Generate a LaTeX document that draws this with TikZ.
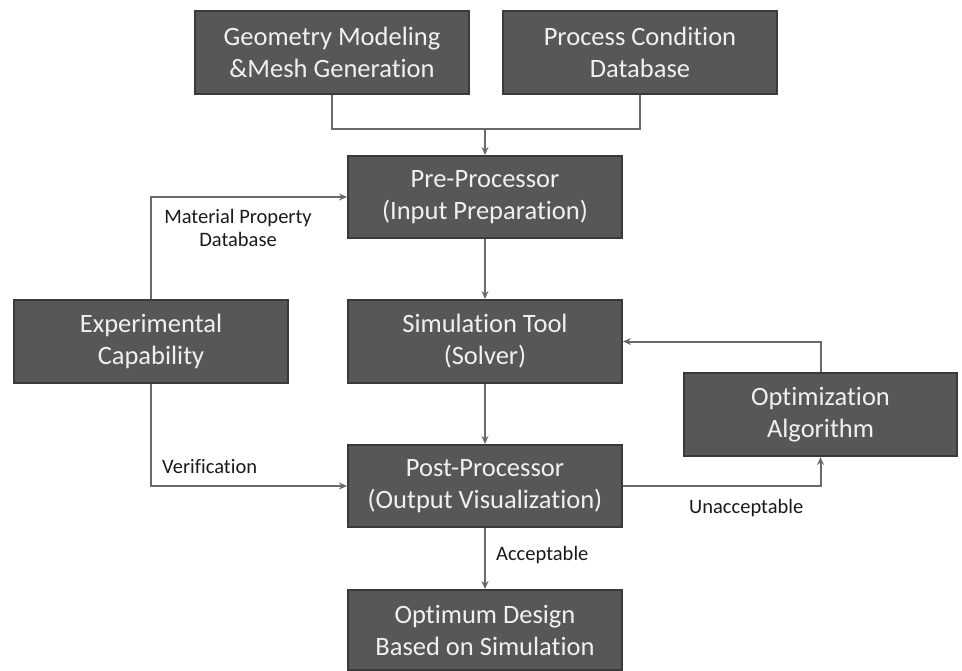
\documentclass[tikz,border=0pt]{standalone}
\usepackage{fontspec}
\setmainfont{Carlito}[Ligatures={NoCommon,NoContextual}]
\usetikzlibrary{arrows.meta}
\definecolor{boxfill}{HTML}{575757}
\definecolor{boxline}{HTML}{3A3A3A}
\definecolor{boxtext}{HTML}{F0F0F0}
\definecolor{conn}{HTML}{6A6A6A}
\definecolor{lbl}{HTML}{1A1A1A}
\tikzset{
  blk/.style={draw=boxline, line width=2pt, fill=boxfill, text=boxtext,
    minimum width=274pt, minimum height=83pt, inner sep=0pt, align=center,
    font=\fontsize{26.5pt}{32pt}\selectfont},
  link/.style={draw=conn, line width=2pt},
  arr/.style={link, -{Stealth[length=8pt,width=7pt]}},
  tag/.style={text=lbl, inner sep=0pt, align=center,
    font=\fontsize{20.5pt}{23pt}\selectfont}
}
\begin{document}
\begin{tikzpicture}[x=1pt,y=-1pt]
\useasboundingbox (0,0) rectangle (962,670);
\node[blk] (geom) at (332,52) {Geometry Modeling\\\&Mesh Generation};
\node[blk] (proc) at (640,52) {Process Condition\\Database};
\node[blk, minimum height=82pt] (pre) at (485,197) {Pre-Processor\\(Input Preparation)};
\node[blk] (sim) at (485,341.5) {Simulation Tool\\(Solver)};
\node[blk] (exp) at (151,341.5) {Experimental\\Capability};
\node[blk, minimum height=82pt] (post) at (485,486) {Post-Processor\\(Output Visualization)};
\node[blk, minimum width=273pt] (opt) at (820.5,414.5) {Optimization\\Algorithm};
\node[blk, minimum height=80pt] (final) at (485,630) {Optimum Design\\Based on Simulation};
\coordinate (j) at (485,129);
\draw[link] (geom.south) |- (j) -| (proc.south);
\draw[arr] (j) -- (pre.north);
\draw[arr] (pre.south) -- (sim.north);
\draw[arr] (sim.south) -- (post.north);
\draw[arr] (post.south) -- (final.north);
\draw[arr] (exp.north) |- (pre.west);
\draw[arr] (exp.south) |- (post.west);
\draw[arr] (post.east) -| (opt.south);
\draw[arr] (opt.north) |- (sim.east);
\node[tag] (mat) at (238,228) {Material Property\\Database};
\node[tag, anchor=west] (ver) at (162,467) {Verification};
\node[tag, anchor=west] (una) at (689,508) {Unacceptable};
\node[tag, anchor=west] (acc) at (496,555) {Acceptable};
\end{tikzpicture}
\end{document}
